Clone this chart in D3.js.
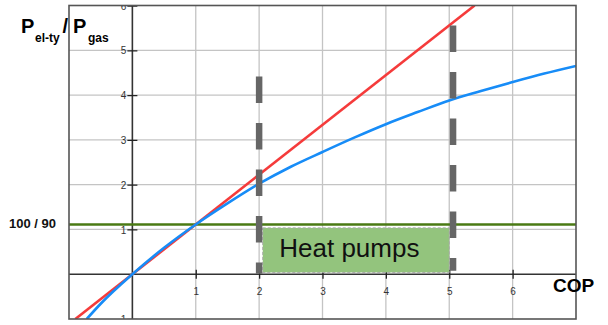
<!DOCTYPE html>
<html>
<head>
<meta charset="utf-8">
<script src="https://cdn.jsdelivr.net/npm/d3@7"></script>
<style>
  html, body { margin: 0; padding: 0; background: #fff; }
  svg { display: block; }
</style>
</head>
<body>
<svg id="chart" width="608" height="325"></svg>
<script>
// ---- data ----
const xTicks = [1, 2, 3, 4, 5, 6];
const yTicks = [-1, 1, 2, 3, 4, 5, 6];
const yTickLabels = ["\u22121", "1", "2", "3", "4", "5", "6"];
const gridX = [1, 2, 3, 4, 5, 6];
const gridY = [1, 2, 3, 4, 5];

// red line (gas-equivalent ratio, straight)
const redX = [-0.9, 5.4];
const redY = [-1, 6];

// blue curve
const blueX = [-0.72, -0.5, 0, 0.5, 1, 1.5, 2, 2.5, 3, 3.5, 4, 4.5, 5, 5.5, 6, 6.5, 7];
const blueY = [-1, -0.66, 0, 0.59, 1.11, 1.58, 2.02, 2.40, 2.73, 3.05, 3.35, 3.62, 3.88, 4.09, 4.29, 4.48, 4.65];

// horizontal reference level 100/90
const refLevel = [1.111];
const refLabel = "100 / 90";

// dashed vertical markers
const markerX = [2, 5.06];
const markerTop = [4.415, 5.553];
const markerBottom = [0.01, 0.076];

// heat pump region box
const boxX = [2.057, 5.0];
const boxY = [0.04, 1.034];
const boxLabel = "Heat pumps";

const xTitle = "COP";

// ---- layout ----
const svg = d3.select("#chart");
const L = 69, R = 576, T = 5.5, B = 319;
const x = d3.scaleLinear().domain([-1, 7]).range([L, R]);
const y = d3.scaleLinear().domain([-1, 6]).range([B, T]);

svg.append("defs").append("clipPath").attr("id", "plotclip")
  .append("rect").attr("x", L).attr("y", T).attr("width", R - L).attr("height", B - T);

const plot = svg.append("g").attr("clip-path", "url(#plotclip)");

// grid
plot.selectAll(".gx").data(gridX).join("line")
  .attr("x1", d => x(d)).attr("x2", d => x(d))
  .attr("y1", T).attr("y2", B)
  .attr("stroke", "#c4c4c4").attr("stroke-width", 1.3);
plot.selectAll(".gy").data(gridY).join("line")
  .attr("y1", d => y(d)).attr("y2", d => y(d))
  .attr("x1", L).attr("x2", R)
  .attr("stroke", "#c4c4c4").attr("stroke-width", 1.3);

// axes lines through zero
plot.append("line").attr("x1", x(0)).attr("x2", x(0)).attr("y1", T).attr("y2", B)
  .attr("stroke", "#333").attr("stroke-width", 1.6);
plot.append("line").attr("y1", y(0)).attr("y2", y(0)).attr("x1", L).attr("x2", R)
  .attr("stroke", "#333").attr("stroke-width", 1.6);

// x axis ticks via d3 axis
const xAxis = d3.axisBottom(x).tickValues(xTicks).tickSize(4.5).tickFormat(d3.format("d"));
const gx = plot.append("g").attr("transform", `translate(0,${y(0)})`).call(xAxis);
gx.select(".domain").remove();
gx.selectAll(".tick line").attr("y1", -4.5).attr("y2", 4.5).attr("stroke", "#222").attr("stroke-width", 1.3);
gx.selectAll(".tick text").attr("y", 0).attr("dy", 20.3)
  .attr("font-family", "Liberation Sans, Arial, sans-serif").attr("font-size", 10).attr("fill", "#333");

// y axis ticks via d3 axis
const yAxis = d3.axisLeft(y).tickValues(yTicks).tickSize(5)
  .tickFormat((d, i) => yTickLabels[i]);
const gy = plot.append("g").attr("transform", `translate(${x(0)},0)`).call(yAxis);
gy.select(".domain").remove();
gy.selectAll(".tick line").attr("x1", -5).attr("x2", 5).attr("stroke", "#222").attr("stroke-width", 1.3);
gy.selectAll(".tick text").attr("x", -6).attr("dy", "0.36em")
  .attr("font-family", "Liberation Sans, Arial, sans-serif").attr("font-size", 10).attr("fill", "#333");

// reference horizontal green line
plot.selectAll(".ref").data(refLevel).join("line")
  .attr("x1", L).attr("x2", R)
  .attr("y1", d => y(d)).attr("y2", d => y(d))
  .attr("stroke", "#4a7a14").attr("stroke-width", 2.6);

// heat pump box
plot.append("rect")
  .attr("x", x(boxX[0])).attr("width", x(boxX[1]) - x(boxX[0]))
  .attr("y", y(boxY[1])).attr("height", y(boxY[0]) - y(boxY[1]))
  .attr("fill", "#93c47d").attr("stroke", "#a9a9a9").attr("stroke-width", 1)
  .attr("stroke-dasharray", "3,2");
plot.append("text")
  .attr("x", x(boxX[0]) + 16.5).attr("y", y(boxY[0]) - 15.6)
  .attr("font-family", "Liberation Sans, Arial, sans-serif").attr("font-size", 26)
  .attr("fill", "#111").text(boxLabel);

// red line
const line = d3.line().x(d => x(d[0])).y(d => y(d[1]));
plot.append("path").datum(redX.map((v, i) => [v, redY[i]]))
  .attr("d", line).attr("fill", "none")
  .attr("stroke", "#f53b3b").attr("stroke-width", 2.6);

// blue curve
const curve = d3.line().x(d => x(d[0])).y(d => y(d[1])).curve(d3.curveMonotoneX);
plot.append("path").datum(blueX.map((v, i) => [v, blueY[i]]))
  .attr("d", curve).attr("fill", "none")
  .attr("stroke", "#178cf7").attr("stroke-width", 2.6);

// dashed vertical markers
plot.selectAll(".marker").data(markerX).join("line")
  .attr("x1", d => x(d)).attr("x2", d => x(d))
  .attr("y1", (d, i) => y(markerTop[i])).attr("y2", (d, i) => y(markerBottom[i]))
  .attr("stroke", "#666").attr("stroke-width", 6.5)
  .attr("stroke-dasharray", "26.5,20");

// frame
svg.append("rect").attr("x", L).attr("y", T).attr("width", R - L).attr("height", B - T)
  .attr("fill", "none").attr("stroke", "#555").attr("stroke-width", 1.6);

// reference label
svg.append("text").attr("x", 9).attr("y", 228.3)
  .attr("font-family", "Liberation Sans, Arial, sans-serif").attr("font-size", 13)
  .attr("font-weight", "bold").attr("fill", "#111").text(refLabel);

// y title: P el-ty / P gas
const tf = "Liberation Sans, Arial, sans-serif";
const title = svg.append("g").attr("font-family", tf).attr("font-weight", "bold").attr("fill", "#000");
title.append("text").attr("x", 21).attr("y", 33).attr("font-size", 20).text("P");
title.append("text").attr("x", 35).attr("y", 41.8).attr("font-size", 12).text("el-ty");
title.append("text").attr("x", 62.5).attr("y", 33).attr("font-size", 20).text("/");
title.append("text").attr("x", 73).attr("y", 33).attr("font-size", 20).text("P");
title.append("text").attr("x", 88).attr("y", 41.8).attr("font-size", 12).text("gas");

// x title
svg.append("text").attr("x", 553).attr("y", 292)
  .attr("font-family", tf).attr("font-weight", "bold").attr("font-size", 19)
  .attr("fill", "#000").text(xTitle);
</script>
</body>
</html>
